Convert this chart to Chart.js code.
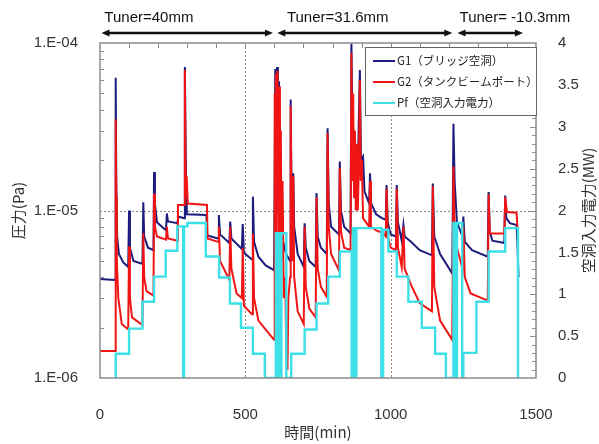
<!DOCTYPE html>
<html>
<head>
<meta charset="utf-8">
<script src="https://cdn.jsdelivr.net/npm/chart.js@4.4.1/dist/chart.umd.min.js"></script>
<style>
  html, body { margin: 0; padding: 0; background: #fff; }
</style>
</head>
<body>
<canvas id="pressureChart" width="599" height="444"></canvas>
<script>
// G1 (bridge cavity) pressure, Pa
const g1Min = [
  0, 50, 53,
  54, 56, 59, 65, 80, 97,
  100, 103, 115, 146,
  149, 152, 165, 184,
  186, 189, 196, 227,
  230, 234, 266,
  270, 289,
  292, 295, 299, 366,
  369, 406,
  409, 413, 445,
  448, 452, 488,
  491, 495, 523,
  526, 530, 545, 570, 599,
  603, 606, 609, 612, 616, 620, 625, 630, 640, 654,
  656, 659, 662, 665, 668, 680, 701,
  704, 708, 720, 742,
  745, 749, 760, 780,
  783, 787, 795, 822,
  825, 829, 840, 862,
  865, 869, 875, 885, 894, 898, 905, 910, 926, 929, 933, 950, 970, 983,
  986, 990, 1000, 1018,
  1021, 1025, 1038,
  1044, 1048, 1070, 1100, 1142,
  1145, 1150, 1170, 1212,
  1216, 1220, 1228, 1247,
  1250, 1255, 1280, 1334,
  1337, 1341, 1350, 1391,
  1394, 1398, 1410, 1433, 1436, 1440
];
const g1Pa = [
  3.9e-6, 3.85e-6, 3.9e-6,
  6.2e-5, 1.5e-5, 7e-6, 5.5e-6, 4.9e-6, 4.6e-6,
  1.0e-5, 6e-6, 5e-6, 4.8e-6,
  1.12e-5, 7e-6, 6e-6, 5.8e-6,
  1.7e-5, 1.1e-5, 8.5e-6, 7.6e-6,
  9.6e-6, 8.6e-6, 8.4e-6,
  9.2e-6, 9.0e-6,
  7.2e-5, 2e-5, 9.5e-6, 9.4e-6,
  7.1e-6, 6.8e-6,
  9.4e-6, 7.2e-6, 6.4e-6,
  8.6e-6, 6.8e-6, 5.9e-6,
  8.3e-6, 5.6e-6, 5.1e-6,
  1.21e-5, 6.5e-6, 5.3e-6, 4.7e-6, 4.4e-6,
  7e-5, 1.5e-5, 7.2e-5, 2e-5, 5.9e-5, 9e-6, 1.5e-5, 6.5e-6, 5.5e-6, 5e-6,
  4.6e-5, 1.2e-5, 8e-6, 1.67e-5, 8e-6, 5.5e-6, 4.6e-6,
  8.4e-6, 6e-6, 5e-6, 4.6e-6,
  1.27e-5, 7e-6, 6e-6, 5.5e-6,
  3.1e-5, 1.1e-5, 8e-6, 7.2e-6,
  1.96e-5, 1e-5, 8e-6, 7.3e-6,
  9.9e-5, 2.5e-5, 1.5e-5, 1.2e-5, 6.9e-5, 2e-5, 2.1e-5, 1.3e-5, 1.1e-5, 1.67e-5, 1.1e-5, 9.5e-6, 9e-6, 8.8e-6,
  1.42e-5, 8.5e-6, 7.2e-6, 7e-6,
  1.42e-5, 8.5e-6, 6.6e-6,
  8.2e-6, 7e-6, 6.5e-6, 5.8e-6, 5.4e-6,
  1.45e-5, 7e-6, 5.5e-6, 4.2e-6,
  3.3e-5, 1.5e-5, 8.5e-6, 7e-6,
  9.2e-6, 6.5e-6, 5.8e-6, 5.3e-6,
  1.29e-5, 7.5e-6, 6.6e-6, 6.4e-6,
  1.23e-5, 9e-6, 8.4e-6, 8.2e-6, 6.4e-6, 4e-6
];

// G2 (tank beam port) pressure, Pa
const g2Min = [
  0, 52,
  54, 56, 58, 63, 75, 97,
  100, 103, 110, 146,
  149, 152, 160, 184,
  186, 189, 196, 227,
  230, 234, 266,
  268, 289,
  292, 294, 296, 298, 302, 368,
  370, 406,
  409, 413, 445,
  448, 452, 470, 488,
  491, 495, 523,
  526, 530, 545, 575, 599,
  601, 603, 605, 607, 609, 611, 613, 615, 617, 619, 622, 625, 628, 632, 637, 641, 645, 648, 654,
  656, 659, 662, 665, 668, 680, 701,
  704, 708, 720, 742,
  745, 749, 760, 780,
  783, 787, 795, 822,
  825, 829, 840, 862,
  865, 868, 871, 874, 877, 880, 884, 887, 891, 894, 897, 901, 905, 926, 929, 932, 950, 975, 983,
  986, 990, 1000, 1018,
  1021, 1025, 1038,
  1044, 1048, 1070, 1100, 1142,
  1145, 1150, 1170, 1212,
  1216, 1220, 1228, 1247,
  1250, 1255, 1275, 1334,
  1337, 1341, 1391,
  1394, 1400, 1433, 1436
];
const g2Pa = [
  1.45e-6, 1.45e-6,
  3.5e-5, 1.2e-5, 5e-6, 3e-6, 2.1e-6, 1.95e-6,
  6.1e-6, 3e-6, 2.3e-6, 2.07e-6,
  7.3e-6, 4e-6, 3.3e-6, 3.1e-6,
  1.26e-5, 8e-6, 7e-6, 6.7e-6,
  8e-6, 6.8e-6, 6.6e-6,
  1.08e-5, 1.08e-5,
  6.9e-5, 2e-5, 1.2e-5, 1.6e-5, 1.1e-5, 1.08e-5,
  6.8e-6, 6.5e-6,
  8e-6, 5e-6, 3.85e-6,
  8e-6, 4.5e-6, 3.2e-6, 3.0e-6,
  6e-6, 2.7e-6, 2.4e-6,
  7.3e-6, 3e-6, 2.2e-6, 1.9e-6, 1.69e-6,
  5e-5, 8e-6, 6.5e-5, 6e-6, 6.8e-5, 1e-5, 4e-5, 7e-6, 5.5e-5, 6e-6, 3e-5, 5e-6, 1.5e-5, 3e-6, 4e-6, 1.4e-6, 1.12e-6, 3e-6, 4e-6,
  4.2e-5, 1e-5, 5e-6, 1.6e-5, 4e-6, 2.5e-6, 2.1e-6,
  8e-6, 3.5e-6, 2.6e-6, 2.3e-6,
  1.2e-5, 4.5e-6, 3.5e-6, 3.06e-6,
  2.9e-5, 8e-6, 5.5e-6, 4.4e-6,
  1.8e-5, 7.5e-6, 6e-6, 5.8e-6,
  8.7e-5, 1.5e-5, 5e-5, 1.2e-5, 3e-5, 1e-5, 2.5e-5, 1e-5, 2e-5, 6e-5, 1.5e-5, 2e-5, 9e-6, 8e-6, 1.5e-5, 8e-6, 7.6e-6, 7.3e-6, 7e-6,
  1.35e-5, 7e-6, 6e-6, 5.8e-6,
  1.35e-5, 6e-6, 4.6e-6,
  8e-6, 4.5e-6, 3.6e-6, 2.8e-6, 2.5e-6,
  1.4e-5, 3.5e-6, 2.2e-6, 1.69e-6,
  1.83e-5, 8e-6, 6e-6, 4.5e-6,
  8e-6, 4e-6, 3.2e-6, 2.9e-6,
  1.25e-5, 7.3e-6, 7.3e-6,
  1.2e-5, 9.8e-6, 9.7e-6, 8e-6
];

// Pf (cavity input power), MW - value holds from each time until the next
const pfMin = [
  50, 54, 100, 146, 186, 226, 266, 286, 289, 301,
  364, 410, 447, 485, 526, 567, 605, 611, 614, 621,
  624, 641, 658, 704, 745, 785, 825, 866, 870, 877,
  882, 968, 974, 992, 1021, 1061, 1107, 1153, 1190, 1216,
  1223, 1228, 1246, 1250, 1295, 1337, 1394, 1438
];
const pfMW = [
  0, 0.29, 0.59, 0.91, 1.21, 1.52, 1.81, 0, 1.81, 1.85,
  1.45, 1.20, 0.89, 0.60, 0.29, 0, 1.73, 0, 1.73, 0,
  1.73, 0, 0.29, 0.58, 0.89, 1.21, 1.51, 0, 1.79, 0,
  1.79, 0, 1.77, 1.51, 1.21, 0.91, 0.60, 0.29, 0, 1.85,
  0, 1.85, 0, 0.30, 0.91, 1.51, 1.79, 0
];

const seriesLabels = ['G1（ブリッジ空洞）', 'G2（タンクビームポート）', 'Pf（空洞入力電力）'];
const padTicks = [1e-6, 1e-5, 1e-4];
const refMin = [500, 1000];
const refPa = [1e-5];

const tunerText = ['Tuner=40mm', 'Tuner=31.6mm', 'Tuner= -10.3mm'];
const tunerStart = [5, 610, 1230];
const tunerEnd = [595, 1212, 1455];
const tunerTextAt = [15, 643, 1237];

const toPoints = (xs, ys) => xs.map((x, i) => ({ x: x, y: ys[i] }));
const numFont = { family: "'Liberation Sans', Arial, sans-serif", size: 15 };
const jpFont = "'Noto Sans CJK JP', sans-serif";
const frameColor = '#8c8c8c';

// frame, inward ticks, dotted guides, legend box, tuner arrows, right title
const decorPlugin = {
  id: 'decor',
  beforeDatasetsDraw(chart) {
    const { ctx, chartArea: a, scales } = chart;
    ctx.save();
    ctx.strokeStyle = '#8a8a8a';
    ctx.lineWidth = 1;
    ctx.setLineDash([2, 2]);
    refMin.forEach(v => {
      const x = Math.round(scales.x.getPixelForValue(v)) + 0.5;
      ctx.beginPath(); ctx.moveTo(x, a.top); ctx.lineTo(x, a.bottom); ctx.stroke();
    });
    refPa.forEach(v => {
      const y = Math.round(scales.y.getPixelForValue(v)) + 0.5;
      ctx.beginPath(); ctx.moveTo(a.left, y); ctx.lineTo(a.right, y); ctx.stroke();
    });
    ctx.restore();
  },
  afterDatasetsDraw(chart) {
    const { ctx, chartArea: a, scales } = chart;
    ctx.save();

    // inward tick marks
    ctx.strokeStyle = frameColor;
    ctx.lineWidth = 1;
    ctx.beginPath();
    for (let t = 100; t < 1500; t += 100) {
      const x = Math.round(scales.x.getPixelForValue(t)) + 0.5;
      ctx.moveTo(x, a.top); ctx.lineTo(x, a.top + 5);
    }
    [1e-6, 1e-5].forEach(d => {
      for (let m = 2; m <= 9; m++) {
        const y = Math.round(scales.y.getPixelForValue(m * d)) + 0.5;
        ctx.moveTo(a.left, y); ctx.lineTo(a.left + 4, y);
      }
    });
    for (let k = 1; k < 40; k++) {
      const y = Math.round(scales.y2.getPixelForValue(k / 10)) + 0.5;
      ctx.moveTo(a.right, y); ctx.lineTo(a.right - (k % 5 === 0 ? 6 : 4), y);
    }
    ctx.stroke();

    // frame
    ctx.lineWidth = 1.5;
    ctx.strokeRect(a.left, a.top, a.right - a.left, a.bottom - a.top);

    // legend
    const bw = 171, bh = 68;
    const bx = a.right - bw, by = a.top + 4;
    ctx.fillStyle = '#fff';
    ctx.fillRect(bx, by, bw, bh);
    ctx.strokeStyle = '#666';
    ctx.lineWidth = 1;
    ctx.strokeRect(bx + 0.5, by + 0.5, bw, bh);
    ctx.font = '11.5px ' + jpFont;
    ctx.textBaseline = 'middle';
    ctx.textAlign = 'left';
    chart.data.datasets.forEach((ds, i) => {
      const y = by + 14 + i * 21;
      ctx.strokeStyle = ds.borderColor;
      ctx.lineWidth = 2;
      ctx.beginPath(); ctx.moveTo(bx + 8, y); ctx.lineTo(bx + 30, y); ctx.stroke();
      ctx.fillStyle = '#222';
      ctx.fillText(ds.label, bx + 32, y);
    });

    // tuner arrows
    const ay = a.top - 10;
    ctx.strokeStyle = '#111';
    ctx.fillStyle = '#111';
    ctx.lineWidth = 2.5;
    tunerText.forEach((txt, i) => {
      const x1 = scales.x.getPixelForValue(tunerStart[i]);
      const x2 = scales.x.getPixelForValue(tunerEnd[i]);
      ctx.beginPath(); ctx.moveTo(x1 + 6, ay); ctx.lineTo(x2 - 6, ay); ctx.stroke();
      ctx.beginPath();
      ctx.moveTo(x1, ay); ctx.lineTo(x1 + 8, ay - 3.5); ctx.lineTo(x1 + 8, ay + 3.5); ctx.closePath();
      ctx.moveTo(x2, ay); ctx.lineTo(x2 - 8, ay - 3.5); ctx.lineTo(x2 - 8, ay + 3.5); ctx.closePath();
      ctx.fill();
      ctx.font = "15px 'Liberation Sans', Arial, sans-serif";
      ctx.textBaseline = 'alphabetic';
      ctx.fillText(txt, scales.x.getPixelForValue(tunerTextAt[i]), a.top - 21);
    });

    // right axis title, reads bottom to top like the left one
    ctx.translate(588, (a.top + a.bottom) / 2);
    ctx.rotate(-Math.PI / 2);
    ctx.font = '15px ' + jpFont;
    ctx.fillStyle = '#333';
    ctx.textAlign = 'center';
    ctx.textBaseline = 'middle';
    ctx.fillText('空洞入力電力(MW)', 0, 0);
    ctx.restore();
  }
};

const ctx = document.getElementById('pressureChart').getContext('2d');
const pressureChart = new Chart(ctx, {
  type: 'line',
  data: {
    datasets: [{
      label: seriesLabels[0],
      data: toPoints(g1Min, g1Pa),
      borderColor: '#1c1c7c',
      borderWidth: 2,
      yAxisID: 'y',
      order: 3
    }, {
      label: seriesLabels[1],
      data: toPoints(g2Min, g2Pa),
      borderColor: '#f01414',
      borderWidth: 2,
      yAxisID: 'y',
      order: 2
    }, {
      label: seriesLabels[2],
      data: toPoints(pfMin, pfMW),
      borderColor: '#3ce0e6',
      borderWidth: 2.4,
      stepped: 'before',
      yAxisID: 'y2',
      order: 1
    }]
  },
  options: {
    responsive: false,
    animation: false,
    layout: { padding: { top: 43, left: 0, right: 0, bottom: 0 } },
    elements: { point: { radius: 0 }, line: { tension: 0 } },
    plugins: { legend: { display: false }, tooltip: { enabled: false } },
    scales: {
      x: {
        type: 'linear',
        min: 0,
        max: 1500,
        grid: { display: false },
        border: { display: false },
        ticks: { stepSize: 500, font: numFont, color: '#333', padding: 20, maxRotation: 0, callback: v => String(v) },
        title: { display: true, text: '時間(min)', color: '#333', font: { family: jpFont, size: 15 }, padding: { top: 0, bottom: 3 } },
        afterFit: s => { s.height = 66; }
      },
      y: {
        type: 'logarithmic',
        position: 'left',
        min: 1e-6,
        max: 1e-4,
        grid: { display: false },
        border: { display: false },
        afterBuildTicks: s => { s.ticks = padTicks.map(v => ({ value: v })); },
        ticks: {
          font: numFont,
          color: '#333',
          padding: 14,
          callback: v => '1.E-' + String(-Math.round(Math.log10(v))).padStart(2, '0')
        },
        title: { display: true, text: '圧力(Pa)', color: '#333', font: { family: jpFont, size: 15 }, padding: { top: 9, bottom: 0 } },
        afterFit: s => { s.width = 100; }
      },
      y2: {
        type: 'linear',
        position: 'right',
        min: 0,
        max: 4,
        grid: { display: false },
        border: { display: false },
        ticks: { stepSize: 0.5, font: numFont, color: '#333', padding: 14, callback: v => String(v) },
        afterFit: s => { s.width = 63; }
      }
    }
  },
  plugins: [decorPlugin]
});
</script>
</body>
</html>
